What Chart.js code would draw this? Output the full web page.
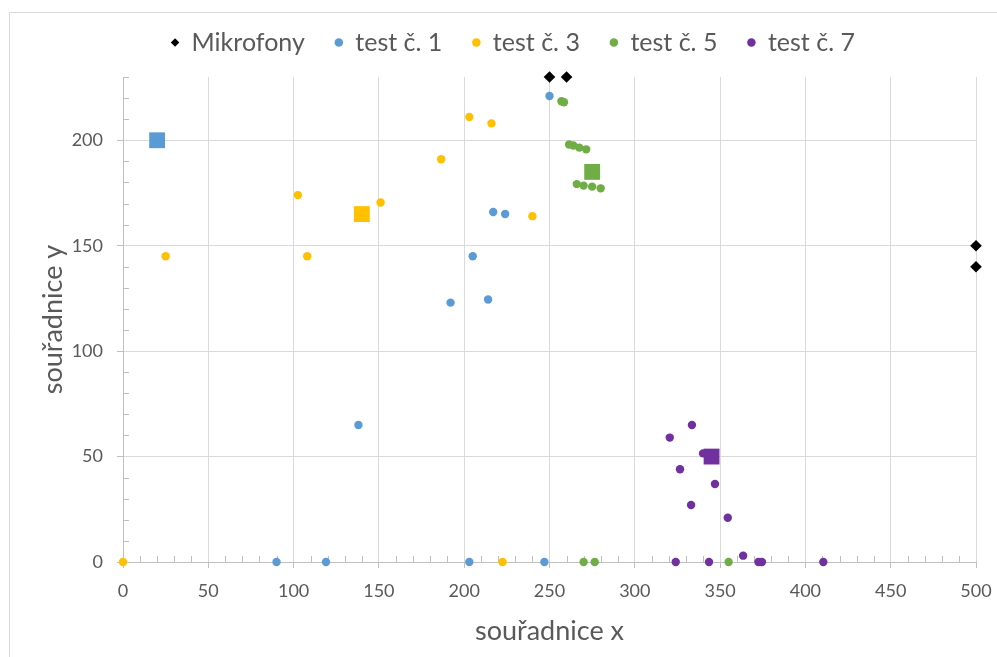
<!DOCTYPE html>
<html lang="cs">
<head>
  <meta charset="UTF-8">
  <title>Souřadnice</title>
  <script src="https://cdn.jsdelivr.net/npm/chart.js"></script>
  <style>
    body {
      margin: 0;
      background: #ffffff;
    }
    .wrap {
      width: 997px;
      height: 657px;
      position: relative;
    }
  </style>
</head>
<body>
  <div class="wrap">
    <canvas id="chart"></canvas>
  </div>

  <script>
    // [x, y] pairs for each series
    const mikrofony = [[250, 230], [260, 230], [500, 150], [500, 140]];
    const test1 = [[250, 221], [217, 166], [224, 165], [205, 145], [192, 123], [214, 124.5],
                   [138, 65], [90, 0], [119, 0], [203, 0], [247, 0]];
    const test3 = [[0, 0], [25, 145], [102.5, 174], [108, 145], [151, 170.5], [186.5, 191],
                   [203, 211], [216, 208], [240, 164], [222.5, 0]];
    const test5 = [[257, 218.5], [258.5, 218], [261.5, 198], [264, 197.5], [267.5, 196.5], [271.5, 195.7],
                   [266, 179.2], [270, 178.5], [275, 178], [280, 177.2], [270, 0], [276.5, 0], [355, 0]];
    const test7 = [[333.5, 65], [320.5, 59], [340, 51.5], [326.5, 44], [347, 37], [333, 27], [354.5, 21],
                   [363.5, 3], [324, 0], [343.5, 0], [372.5, 0], [374.5, 0], [410.5, 0]];
    // centres of each test (square markers)
    const stred1 = [[20, 200]];
    const stred3 = [[140, 165]];
    const stred5 = [[275, 185]];
    const stred7 = [[345, 50]];

    const xTicks = [0, 50, 100, 150, 200, 250, 300, 350, 400, 450, 500];
    const yTicks = [0, 50, 100, 150, 200];

    const blue = '#5B9BD5';
    const yellow = '#FFC000';
    const green = '#70AD47';
    const purple = '#7030A0';
    const textColor = '#595959';

    const pts = arr => arr.map(p => ({ x: p[0], y: p[1] }));

    function circles(label, arr, color) {
      return {
        label: label, data: pts(arr), pointStyle: 'circle', pointRadius: 4.2,
        backgroundColor: color, borderColor: color, borderWidth: 0, clip: false
      };
    }
    function square(arr, color) {
      return {
        label: '', data: pts(arr), pointStyle: 'rect', pointRadius: 11.2,
        backgroundColor: color, borderColor: color, borderWidth: 0, clip: false, hideInLegend: true
      };
    }

    // fixed legend band height so the plot starts at the same place
    const legendHeight = {
      id: 'legendHeight',
      beforeInit(chart) {
        const legend = chart.legend;
        const fit = legend.fit;
        legend.fit = function () {
          fit.call(this);
          this.height = 77;
        };
      }
    };

    // thin frame of the chart area (top and left edge only visible)
    const frame = {
      id: 'frame',
      beforeDraw(chart) {
        const ctx = chart.ctx;
        ctx.save();
        ctx.strokeStyle = '#d9d9d9';
        ctx.lineWidth = 1;
        ctx.beginPath();
        ctx.moveTo(9.5, chart.height + 2);
        ctx.lineTo(9.5, 12.5);
        ctx.lineTo(chart.width + 2, 12.5);
        ctx.stroke();
        ctx.restore();
      }
    };

    // small inner minor ticks every 10 units
    const minorTicks = {
      id: 'minorTicks',
      beforeDatasetsDraw(chart) {
        const { ctx, chartArea, scales } = chart;
        ctx.save();
        ctx.strokeStyle = '#bfbfbf';
        ctx.lineWidth = 1;
        ctx.beginPath();
        for (let v = 0; v <= 500; v += 10) {
          if (v % 50 === 0) continue;
          const px = Math.round(scales.x.getPixelForValue(v)) + 0.5;
          ctx.moveTo(px, chartArea.bottom);
          ctx.lineTo(px, chartArea.bottom - 6);
        }
        for (let v = 0; v <= 230; v += 10) {
          if (v % 50 === 0) continue;
          const py = Math.round(scales.y.getPixelForValue(v)) + 0.5;
          ctx.moveTo(chartArea.left, py);
          ctx.lineTo(chartArea.left + 6, py);
        }
        ctx.stroke();
        ctx.restore();
      }
    };

    Chart.defaults.font.family = 'Lato, sans-serif';
    Chart.defaults.color = textColor;

    new Chart(document.getElementById('chart'), {
      type: 'scatter',
      data: {
        datasets: [
          {
            label: 'Mikrofony', data: pts(mikrofony), pointStyle: 'rectRot', pointRadius: 5.8,
            backgroundColor: '#000000', borderColor: '#000000', borderWidth: 0, clip: false
          },
          circles('test č. 1', test1, blue),
          circles('test č. 3', test3, yellow),
          circles('test č. 5', test5, green),
          circles('test č. 7', test7, purple),
          square(stred1, blue),
          square(stred3, yellow),
          square(stred5, green),
          square(stred7, purple)
        ]
      },
      options: {
        responsive: true,
        maintainAspectRatio: false,
        animation: false,
        layout: { padding: { left: 34, right: 5, top: 0, bottom: 0 } },
        plugins: {
          tooltip: { enabled: false },
          legend: {
            position: 'top',
            labels: {
              usePointStyle: true,
              boxWidth: 8,
              boxHeight: 6,
              padding: 30,
              font: { size: 25 },
              color: textColor,
              filter: (item, data) => !data.datasets[item.datasetIndex].hideInLegend
            }
          }
        },
        scales: {
          x: {
            type: 'linear',
            min: 0,
            max: 500,
            afterBuildTicks: s => { s.ticks = xTicks.map(v => ({ value: v })); },
            afterFit: s => { s.height = 95; s.paddingRight = 21; },
            ticks: { font: { size: 18 }, color: textColor, padding: 12 },
            grid: { color: '#d9d9d9', tickColor: '#bfbfbf', tickLength: 6 },
            border: { color: '#bfbfbf' },
            title: { display: true, text: 'souřadnice x', font: { size: 27 }, color: textColor, padding: { top: 0, bottom: 10 } }
          },
          y: {
            type: 'linear',
            min: 0,
            max: 230,
            afterBuildTicks: s => { s.ticks = yTicks.map(v => ({ value: v })); },
            afterFit: s => { s.width = 89; },
            ticks: { font: { size: 18 }, color: textColor, padding: 14 },
            grid: { color: '#d9d9d9', tickColor: '#bfbfbf', tickLength: 6 },
            border: { color: '#bfbfbf' },
            title: { display: true, text: 'souřadnice y', font: { size: 27 }, color: textColor, padding: { top: 3, bottom: 0 } }
          }
        }
      },
      plugins: [legendHeight, frame, minorTicks]
    });
  </script>
</body>
</html>
